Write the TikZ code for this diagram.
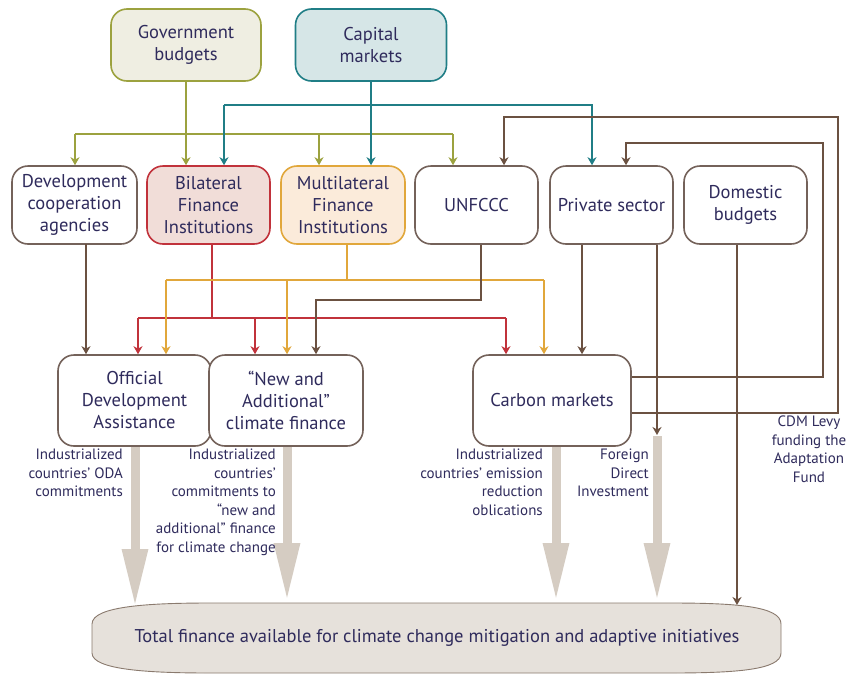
\documentclass[tikz,border=0pt]{standalone}
\usepackage{fontspec}
\setmainfont{PT Sans}
\usetikzlibrary{arrows.meta,shapes.geometric}
\definecolor{txt}{HTML}{2F2B5C}
\definecolor{oliv}{HTML}{9CA23F}
\definecolor{tealc}{HTML}{207E86}
\definecolor{brn}{HTML}{6B5141}
\definecolor{boxb}{HTML}{74625A}
\definecolor{redc}{HTML}{C1323B}
\definecolor{orgc}{HTML}{E1A73B}
\definecolor{gry}{HTML}{D5CCC2}
\definecolor{totf}{HTML}{E6E1DB}
\definecolor{totb}{HTML}{8A7A6E}
\definecolor{govf}{HTML}{EFEEE2}
\definecolor{capf}{HTML}{D6E6E7}
\definecolor{bilf}{HTML}{F1DDD8}
\definecolor{mulf}{HTML}{FBEBDA}
\tikzset{
  box/.style={draw=boxb, line width=1.6pt, rounded corners=16pt, fill=white,
    align=center, text=txt, inner sep=0pt,
    font=\fontsize{18.5}{22}\selectfont},
  sz/.style 2 args={minimum width=#1pt, minimum height=#2pt},
  ln/.style={line width=1.5pt},
  arr/.style={line width=1.5pt, -{Stealth[length=8pt,width=9pt,inset=2.5pt]}},
  garr/.style={draw=gry, line width=9pt, -{Triangle[length=58pt,width=24pt]}},
  lab/.style={align=right, anchor=north east, text=txt, inner sep=0pt,
    font=\fontsize{15}{18.5}\selectfont},
}
\begin{document}
\begin{tikzpicture}[x=1pt,y=-1pt]
\useasboundingbox[fill=white] (0,0) rectangle (848,675);

% top sources
\node[box, sz={150}{72}, draw=oliv, fill=govf] (gov) at (186,45) {Government\\budgets};
\node[box, sz={151}{72}, draw=tealc, fill=capf] (cap) at (371,45) {Capital\\markets};

% middle row
\node[box, sz={125}{78}] (dev) at (74.5,205) {Development\\cooperation\\agencies};
\node[box, sz={123}{78}, draw=redc, fill=bilf] (bil) at (208.5,205) {Bilateral\\Finance\\Institutions};
\node[box, sz={124}{78}, draw=orgc, fill=mulf] (mul) at (343,205) {Multilateral\\Finance\\Institutions};
\node[box, sz={123}{78}] (unf) at (476.5,205) {UNFCCC};
\node[box, sz={123}{78}] (pri) at (611.5,205) {Private sector};
\node[box, sz={123}{78}] (dom) at (745.5,205) {Domestic\\budgets};

% lower row
\node[box, sz={153}{91}] (oda) at (134.5,400.5) {Official\\Development\\Assistance};
\node[box, sz={154}{91}] (new) at (286,400.5) {“New and\\Additional”\\climate finance};
\node[box, sz={158}{91}] (car) at (552,400.5) {Carbon markets};

% total
\draw[draw=totb, fill=totf, line width=0.9pt]
  (92,624) .. controls (92,606) and (150,603) .. (210,603) -- (670,603)
  .. controls (735,603) and (781,606) .. (781,624) -- (781,653)
  .. controls (781,670) and (735,673) .. (670,673) -- (210,673)
  .. controls (150,673) and (92,670) .. (92,653) -- cycle;
\node[text=txt, font=\fontsize{18.5}{22}\selectfont, inner sep=0pt] (tot) at (437,638)
  {Total finance available for climate change mitigation and adaptive initiatives};

% olive connectors
\coordinate (ob1) at (75,134);
\coordinate (ob2) at (319,134);
\coordinate (ob3) at (453,134);
\draw[ln, oliv] (ob1) -- (ob3);
\draw[arr, oliv] (gov.south) -- (gov.south |- bil.north);
\draw[arr, oliv] (ob1) -- (ob1 |- dev.north);
\draw[arr, oliv] (ob2) -- (ob2 |- mul.north);
\draw[arr, oliv] (ob3) -- (ob3 |- unf.north);

% teal connectors
\coordinate (tb1) at (224,105);
\coordinate (tb2) at (592,105);
\draw[arr, tealc] (cap.south) -- (cap.south |- mul.north);
\draw[arr, tealc] (tb1) -- (tb1 |- bil.north);
\draw[arr, tealc] (tb1) -- (tb2) -- (tb2 |- pri.north);

% brown loops from carbon markets
\coordinate (la) at (823,143);
\coordinate (lb) at (626,143);
\coordinate (lc) at (838,117);
\coordinate (ld) at (504,117);
\draw[arr, brn] ([yshift=23.5pt]car.east) -| (la) -- (lb) -- (lb |- pri.north);
\draw[arr, brn] ([yshift=-12.5pt]car.east) -| (lc) -- (ld) -- (ld |- unf.north);

% development -> ODA
\coordinate (d1) at (86,244);
\draw[arr, brn] (d1) -- (d1 |- oda.north);

% bilateral red
\coordinate (r0) at (212,318);
\coordinate (r1) at (138,318);
\coordinate (r2) at (255,318);
\coordinate (r3) at (506,318);
\draw[ln, redc] (r0 |- bil.south) -- (r0);
\draw[ln, redc] (r1) -- (r3);
\draw[arr, redc] (r1) -- (r1 |- oda.north);
\draw[arr, redc] (r2) -- (r2 |- new.north);
\draw[arr, redc] (r3) -- (r3 |- car.north);

% multilateral orange
\coordinate (o0) at (347,280);
\coordinate (o1) at (166,280);
\coordinate (o2) at (287,280);
\coordinate (o3) at (544,280);
\draw[ln, orgc] (o0 |- mul.south) -- (o0);
\draw[ln, orgc] (o1) -- (o3);
\draw[arr, orgc] (o1) -- (o1 |- oda.north);
\draw[arr, orgc] (o2) -- (o2 |- new.north);
\draw[arr, orgc] (o3) -- (o3 |- car.north);

% UNFCCC -> new
\coordinate (u0) at (481,300);
\coordinate (u1) at (316,300);
\draw[arr, brn] (u0 |- unf.south) -- (u0) -- (u1) -- (u1 |- new.north);

% private sector
\coordinate (p1) at (582,300);
\coordinate (p2) at (657,300);
\coordinate (fdi) at (657,435);
\draw[arr, brn] (p1 |- pri.south) -- (p1 |- car.north);
\draw[arr, brn] (p2 |- pri.south) -- (fdi);

% domestic budgets
\coordinate (m1) at (737,605);
\draw[arr, brn] (m1 |- dom.south) -- (m1);

% wide grey arrows
\coordinate (g1) at (135,607);
\coordinate (g2) at (287,601);
\coordinate (g3) at (556,601);
\coordinate (g4) at (657,601);
\draw[garr] (g1 |- oda.south) -- (g1);
\draw[garr] (g2 |- new.south) -- (g2);
\draw[garr] (g3 |- car.south) -- (g3);
\draw[garr] ([yshift=-1pt]fdi) -- (g4);

% labels
\node[lab] (l1) at (123,449) {Industrialized\\countries’ ODA\\commitments};
\node[lab] (l2) at (276,449) {Industrialized\\countries’\\commitments to\\“new and\\additional” finance\\for climate change};
\node[lab] (l3) at (543,449) {Industrialized\\countries’ emission\\reduction\\oblications};
\node[lab] (l4) at (649,449) {Foreign\\Direct\\Investment};
\node[lab, align=center, anchor=north] (l5) at (809,416) {CDM Levy\\funding the\\Adaptation\\Fund};
\end{tikzpicture}
\end{document}
